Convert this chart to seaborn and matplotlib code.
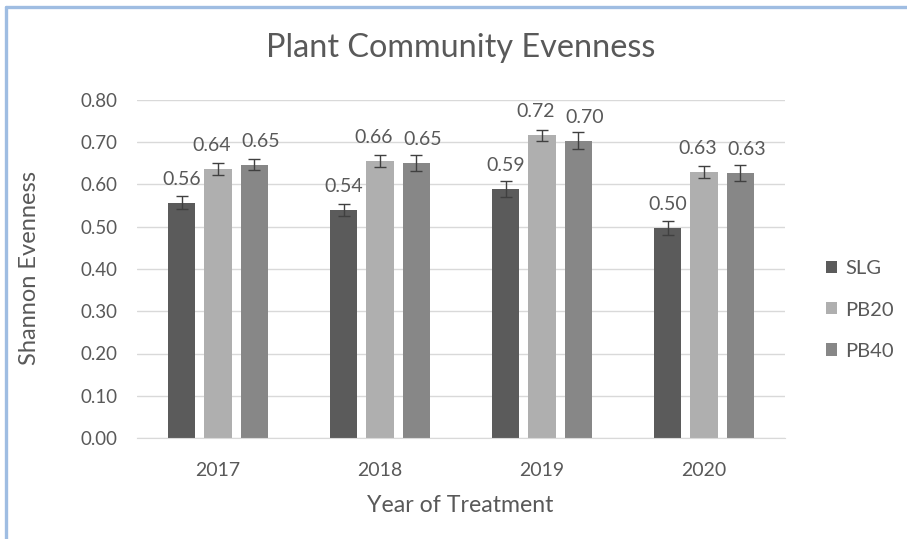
import numpy as np
import pandas as pd
import matplotlib
matplotlib.use("Agg")
import matplotlib.pyplot as plt
from matplotlib.lines import Line2D
import seaborn as sns

years = ["2017", "2018", "2019", "2020"]
treatments = ["SLG", "PB20", "PB40"]
slg = [0.557, 0.540, 0.590, 0.497]
pb20 = [0.636, 0.656, 0.717, 0.630]
pb40 = [0.647, 0.651, 0.704, 0.627]
slg_err = [0.015, 0.015, 0.019, 0.017]
pb20_err = [0.014, 0.015, 0.013, 0.014]
pb40_err = [0.013, 0.018, 0.020, 0.018]
colors = ["#5b5b5b", "#afafaf", "#878787"]

rows = []
for t, vals, errs in zip(treatments, [slg, pb20, pb40], [slg_err, pb20_err, pb40_err]):
    for y, v, e in zip(years, vals, errs):
        rows.append({"Year": y, "Treatment": t, "Evenness": v, "Err": e})
df = pd.DataFrame(rows)

sns.set_style("white")
plt.rcParams["font.family"] = ["Lato", "DejaVu Sans"]
text_color = "#595959"

fig = plt.figure(figsize=(9.07, 5.39), dpi=100)
ax = fig.add_axes([137 / 907, 1 - 438 / 539, (785 - 137) / 907, (438 - 100) / 539])

sns.barplot(data=df, x="Year", y="Evenness", hue="Treatment", order=years,
            hue_order=treatments, palette=colors, errorbar=None, width=0.667,
            gap=0.25, saturation=1, linewidth=0, ax=ax, legend=True)

# error bars and value labels (labels nudged sideways so they don't collide)
label_nudge = [0, -4.5, 4.5]
for i, t in enumerate(treatments):
    cont = ax.containers[i]
    sub = df[df["Treatment"] == t].set_index("Year").loc[years]
    for bar, v, e in zip(cont.patches, sub["Evenness"], sub["Err"]):
        xc = bar.get_x() + bar.get_width() / 2
        ax.errorbar(xc, v, yerr=e, color="#404040", capsize=4, elinewidth=1,
                    capthick=1, fmt="none", zorder=3)
        ax.annotate(f"{v:.2f}", (xc, v), xytext=(label_nudge[i], 13),
                    textcoords="offset points", ha="center", va="baseline",
                    fontsize=14, color=text_color, annotation_clip=False)

ax.set_ylim(0, 0.8)
ax.set_xlim(-0.5, 3.5)
ax.set_yticks(np.arange(0, 0.81, 0.1))
ax.set_yticklabels([f"{v:.2f}" for v in np.arange(0, 0.81, 0.1)])
ax.yaxis.grid(True, color="#d9d9d9", linewidth=1)
ax.set_axisbelow(True)
for s in ["top", "right", "left"]:
    ax.spines[s].set_visible(False)
ax.spines["bottom"].set_color("#d9d9d9")
ax.tick_params(axis="both", length=0, labelsize=13.5, labelcolor=text_color)
ax.tick_params(axis="x", labelsize=14, pad=17)
ax.tick_params(axis="y", pad=14)
ax.set_xlabel("")
ax.set_ylabel("")

fig.text(30 / 907, 1 - 268 / 539, "Shannon Evenness", rotation=90, ha="center",
         va="center", fontsize=17, color=text_color)
fig.text(460 / 907, 1 - 505 / 539, "Year of Treatment", ha="center", va="center",
         fontsize=16.7, color=text_color)
fig.text(461 / 907, 1 - 48 / 539, "Plant Community Evenness", ha="center",
         va="center", fontsize=23.3, color=text_color)

leg = ax.legend(loc="center left", bbox_to_anchor=(808 / 907, 1 - 310 / 539),
                bbox_transform=fig.transFigure, frameon=False, fontsize=14.5,
                handlelength=0.55, handleheight=0.55, handletextpad=0.4,
                labelspacing=1.2)
for txt in leg.get_texts():
    txt.set_color(text_color)

# light blue frame along top and left edge
frame_kw = dict(color="#9fbde2", linewidth=2.4, transform=fig.transFigure)
fig.add_artist(Line2D([6 / 907, 1], [1 - 7 / 539, 1 - 7 / 539], **frame_kw))
fig.add_artist(Line2D([6 / 907, 6 / 907], [0, 1 - 7 / 539], **frame_kw))

fig.savefig("out.png", dpi=100)
